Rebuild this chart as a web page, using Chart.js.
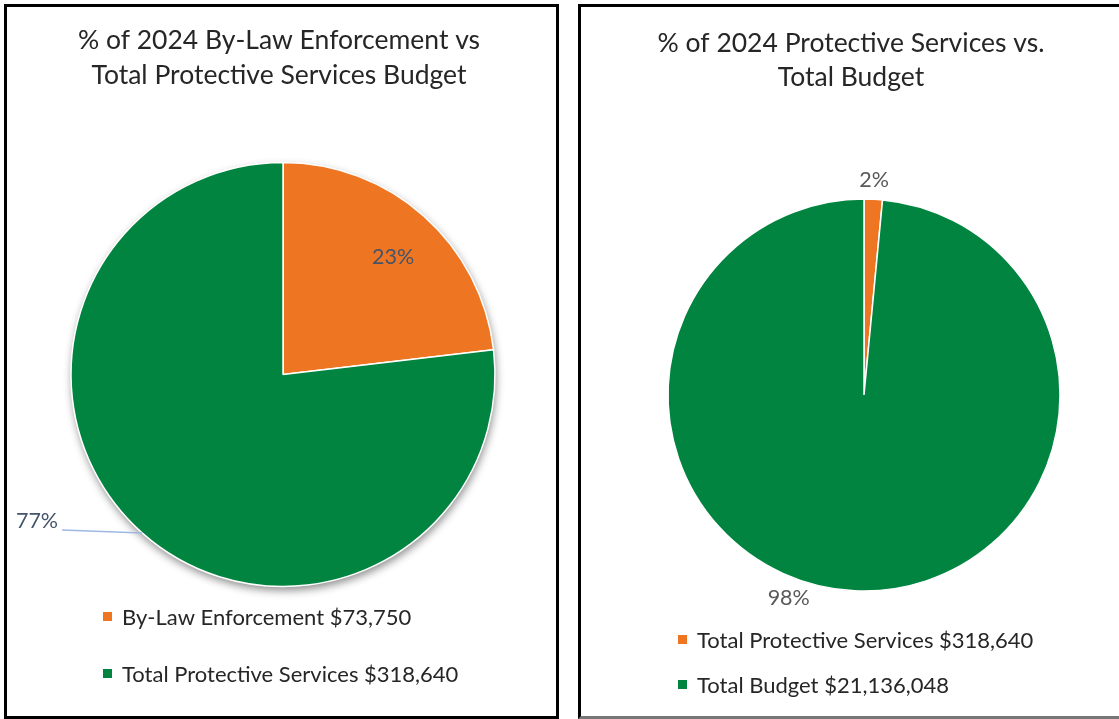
<!DOCTYPE html>
<html>
<head>
<meta charset="utf-8">
<script src="https://cdn.jsdelivr.net/npm/chart.js@4"></script>
<style>
body { margin: 0; background: #fff; width: 1119px; height: 719px; overflow: hidden; position: relative; }
.panel { position: absolute; box-sizing: border-box; border: 3px solid #000; background: #fff; overflow: hidden; }
#leftPanel { left: 4px; top: 4px; width: 555px; height: 715px; }
#rightPanel { left: 578px; top: 4px; width: 560px; height: 715px; border-bottom-color: #777; }
canvas { display: block; }
</style>
</head>
<body>
<div class="panel" id="leftPanel"><canvas id="leftChart" width="549" height="709"></canvas></div>
<div class="panel" id="rightPanel"><canvas id="rightChart" width="554" height="709"></canvas></div>
<script>
// By-law enforcement against the protective services budget
const leftCategories = ['By-Law Enforcement', 'Total Protective Services'];
const leftAmounts = [73750, 318640];
const leftTitle = ['% of 2024 By-Law Enforcement vs', 'Total Protective Services Budget'];

// Protective services against the whole budget
const rightCategories = ['Total Protective Services', 'Total Budget'];
const rightAmounts = [318640, 21136048];
const rightTitle = ['% of 2024 Protective Services vs.', 'Total Budget'];

const sliceColors = ['#EE7623', '#00843F'];
const FONT = 'Lato, "Open Sans", sans-serif';

// The part is one slice, the rest of the total is the other
function slices(amounts) {
    return [amounts[0], amounts[1] - amounts[0]];
}

function legendText(cats, amounts) {
    return cats.map((c, i) => c + ' $' + amounts[i].toLocaleString('en-US'));
}

// Titles, legend rows, percent labels and the pie shadow
const panelText = {
    id: 'panelText',
    beforeDatasetsDraw(chart, args, opts) {
        if (!opts.shadow) return;
        const arc = chart.getDatasetMeta(0).data[0];
        const ctx = chart.ctx;
        ctx.save();
        ctx.shadowColor = 'rgba(0,0,0,0.45)';
        ctx.shadowBlur = 9;
        ctx.shadowOffsetX = 1;
        ctx.shadowOffsetY = 4;
        ctx.fillStyle = '#fff';
        ctx.beginPath();
        ctx.arc(arc.x, arc.y, arc.outerRadius, 0, Math.PI * 2);
        ctx.fill();
        ctx.restore();
    },
    afterDraw(chart, args, opts) {
        const ctx = chart.ctx;
        ctx.save();

        // title
        ctx.font = '26.5px ' + FONT;
        ctx.fillStyle = '#262626';
        ctx.textAlign = 'center';
        ctx.textBaseline = 'alphabetic';
        opts.title.forEach((line, i) => ctx.fillText(line, opts.titleX, opts.titleY + i * opts.titleGap));

        // legend
        const labels = chart.data.labels;
        const colors = chart.data.datasets[0].backgroundColor;
        ctx.font = '22px ' + FONT;
        ctx.textAlign = 'left';
        labels.forEach((text, i) => {
            const y = opts.legendY + i * opts.legendGap;
            ctx.fillStyle = colors[i];
            ctx.fillRect(opts.legendX - 19, y - 13, 9, 9);
            ctx.fillStyle = '#262626';
            ctx.fillText(text, opts.legendX, y);
        });

        // percent labels
        const meta = chart.getDatasetMeta(0);
        const data = chart.data.datasets[0].data;
        const total = data.reduce((a, b) => a + b, 0);
        ctx.font = '21.5px ' + FONT;
        ctx.textBaseline = 'middle';
        meta.data.forEach((arc, i) => {
            const p = opts.labels[i];
            const mid = (arc.startAngle + arc.endAngle) / 2;
            const text = Math.round(data[i] / total * 100) + '%';
            const ex = arc.x + Math.cos(mid) * arc.outerRadius;
            const ey = arc.y + Math.sin(mid) * arc.outerRadius;
            ctx.fillStyle = p.color;
            if (p.mode === 'inside') {
                ctx.textAlign = 'center';
                ctx.fillText(text, arc.x + Math.cos(mid) * arc.outerRadius * p.r + 3, arc.y + Math.sin(mid) * arc.outerRadius * p.r + 3);
            } else if (p.mode === 'outside') {
                const d = arc.outerRadius + p.gap;
                ctx.textAlign = 'center';
                ctx.fillText(text, arc.x + Math.cos(mid) * d, arc.y + Math.sin(mid) * d);
            } else if (p.mode === 'leader') {
                const lx = ex + p.dx, ly = ey + p.dy;
                ctx.strokeStyle = p.lineColor;
                ctx.lineWidth = 1.5;
                ctx.beginPath();
                ctx.moveTo(ex, ey);
                ctx.lineTo(lx, ly);
                ctx.stroke();
                ctx.textAlign = 'right';
                ctx.fillText(text, lx - 4, ly - 9);
            } else {
                ctx.textAlign = 'center';
                ctx.fillText(text, ex + p.dx, ey + p.dy);
            }
        });
        ctx.restore();
    }
};

function makePie(id, cats, amounts, padding, radius, text) {
    return new Chart(document.getElementById(id), {
        type: 'pie',
        data: {
            labels: legendText(cats, amounts),
            datasets: [{
                data: slices(amounts),
                backgroundColor: sliceColors,
                borderColor: '#fff',
                borderWidth: 1.5,
                hoverBorderWidth: 1.5,
                clip: false
            }]
        },
        options: {
            responsive: false,
            animation: false,
            events: [],
            radius: radius,
            layout: { padding: padding },
            plugins: {
                legend: { display: false },
                tooltip: { enabled: false },
                panelText: text
            }
        },
        plugins: [panelText]
    });
}

makePie('leftChart', leftCategories, leftAmounts,
    { left: 63.25, right: 60.25, top: 154.75, bottom: 128.75 }, 212, {
        title: leftTitle, titleX: 272, titleY: 42, titleGap: 35,
        legendX: 115, legendY: 618, legendGap: 57,
        shadow: true,
        labels: [
            { mode: 'inside', r: 0.76, color: '#44546A' },
            { mode: 'leader', dx: -80, dy: -3, color: '#44546A', lineColor: '#9DB8E2' }
        ]
    });

makePie('rightChart', rightCategories, rightAmounts,
    { left: 86.25, right: 74.25, top: 191.25, bottom: 124.25 }, 196, {
        title: rightTitle, titleX: 270, titleY: 45, titleGap: 34,
        legendX: 116, legendY: 641, legendGap: 45,
        shadow: false,
        labels: [
            { mode: 'outside', gap: 19, color: '#595959' },
            { mode: 'offset', dx: -66, dy: 7, color: '#595959' }
        ]
    });
</script>
</body>
</html>
